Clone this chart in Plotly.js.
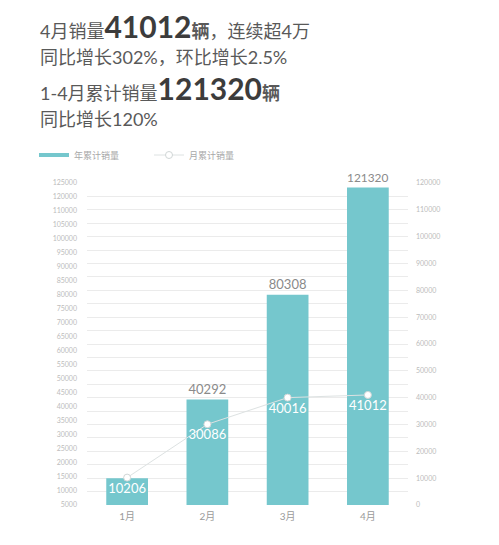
<!DOCTYPE html>
<html>
<head>
<meta charset="utf-8">
<script src="https://cdn.plot.ly/plotly-3.0.1.min.js"></script>
<style>
  html, body { margin: 0; padding: 0; background: #fff; }
  #paper { width: 499px; height: 545px; }
</style>
</head>
<body>
<div id="paper"></div>
<script>
"use strict"

// data
var months = ['1月', '2月', '3月', '4月'];
var yearTotal = [10206, 40292, 80308, 121320];   // 年累计销量 (bars)
var monthSales = [10206, 30086, 40016, 41012];   // 月累计销量 (line)

// left tick labels, top to bottom, as printed (115000 is missing in the original)
var leftTickLabels = ['125000', '120000', '110000', '105000', '100000', '95000', '90000',
    '85000', '80000', '75000', '70000', '65000', '60000', '55000', '50000', '45000',
    '40000', '35000', '30000', '25000', '20000', '15000', '10000', '5000'];
var rightTickVals = [0, 10000, 20000, 30000, 40000, 50000, 60000, 70000, 80000, 90000, 100000, 110000, 120000];

var W = 499, H = 545;
var margin = {l: 87, r: 91, t: 183, b: 40};
var plotW = W - margin.l - margin.r;
var plotH = H - margin.t - margin.b;

function px(x) { return (x - margin.l) / plotW; }
function py(y) { return (H - margin.b - y) / plotH; }

var tealColor = '#75c7cd';
var fontFamily = 'Lato, "Noto Sans CJK SC", sans-serif';

var barText = yearTotal.map(function(v, i) { return i == 0 ? '' : String(v); });
var leftVals = leftTickLabels.map(function(t, i) { return leftTickLabels.length - 1 - i; });

var traces = [
    {
        // empty trace: carries the left label axis and the bar legend swatch
        type: 'scatter',
        mode: 'lines',
        name: '年累计销量',
        x: months,
        y: [null, null, null, null],
        yaxis: 'y',
        line: {color: tealColor, width: 4},
        hoverinfo: 'skip'
    },
    {
        type: 'bar',
        name: '年累计销量',
        x: months,
        y: yearTotal,
        yaxis: 'y2',
        showlegend: false,
        marker: {color: tealColor},
        text: barText,
        textposition: 'outside',
        textfont: {family: fontFamily, size: 13, color: '#8a8a8a'},
        cliponaxis: false,
        hoverinfo: 'skip'
    },
    {
        type: 'scatter',
        mode: 'lines+markers+text',
        name: '月累计销量',
        x: months,
        y: monthSales,
        yaxis: 'y3',
        line: {color: '#dde2e2', width: 1},
        marker: {size: 7, color: '#ffffff', line: {color: '#d0d6d6', width: 1}},
        text: monthSales.map(String),
        textposition: 'bottom center',
        textfont: {family: fontFamily, size: 13, color: '#ffffff'},
        cliponaxis: false,
        hoverinfo: 'skip'
    }
];

var titleLines = [
    {y: 26, text: '4月销量<span style="font-size:30px;fill:#3c3c3c"><b>41012</b></span><b>辆</b>，连续超4万'},
    {y: 57, text: '同比增长302%，环比增长2.5%'},
    {y: 88, text: '1-4月累计销量<span style="font-size:30px;fill:#3c3c3c"><b>121320</b></span><b>辆</b>'},
    {y: 119, text: '同比增长120%'}
];

var annotations = titleLines.map(function(line) {
    return {
        xref: 'paper', yref: 'paper',
        x: px(38), y: py(line.y),
        xanchor: 'left', yanchor: 'middle',
        showarrow: false,
        text: line.text,
        font: {family: fontFamily, size: 18, color: '#595959'}
    };
});

var layout = {
    width: W,
    height: H,
    margin: margin,
    paper_bgcolor: '#ffffff',
    plot_bgcolor: '#ffffff',
    showlegend: true,
    legend: {
        orientation: 'h',
        x: px(34), y: py(155),
        xanchor: 'left', yanchor: 'middle',
        font: {family: fontFamily, size: 9, color: '#a8a8a8'},
        entrywidth: 70,
        itemwidth: 30,
        traceorder: 'normal'
    },
    bargap: 0.48,
    xaxis: {
        type: 'category',
        showgrid: false,
        zeroline: false,
        showline: false,
        ticks: '',
        tickfont: {family: fontFamily, size: 10, color: '#9a9a9a'},
        ticklabelstandoff: 4
    },
    yaxis: {
        side: 'left',
        range: [0, leftTickLabels.length - 1],
        tickvals: leftVals,
        ticktext: leftTickLabels,
        showgrid: false,
        zeroline: false,
        showline: false,
        ticks: '',
        ticklabelstandoff: 9,
        tickfont: {family: fontFamily, size: 7, color: '#bcbcbc'}
    },
    yaxis2: {
        overlaying: 'y',
        range: [0, 123000],
        visible: false
    },
    yaxis3: {
        overlaying: 'y',
        side: 'right',
        range: [0, 120000],
        tickvals: rightTickVals,
        ticktext: rightTickVals.map(String),
        showgrid: true,
        gridcolor: '#ebebeb',
        gridwidth: 1,
        minor: {dtick: 5000, showgrid: true, gridcolor: '#ebebeb', gridwidth: 1},
        zeroline: false,
        showline: false,
        ticks: '',
        ticklabelstandoff: 7,
        tickfont: {family: fontFamily, size: 7, color: '#bcbcbc'}
    },
    annotations: annotations
};

Plotly.newPlot('paper', traces, layout, {displayModeBar: false, staticPlot: true});
</script>
</body>
</html>
